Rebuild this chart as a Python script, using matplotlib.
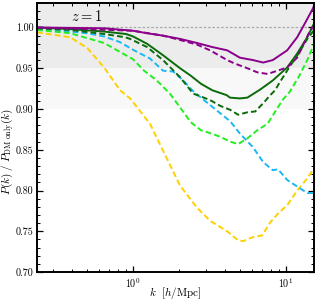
import numpy as np
import matplotlib
matplotlib.use('Agg')
import matplotlib.pyplot as plt
from matplotlib.ticker import MultipleLocator, FormatStrFormatter

plt.rcParams['font.family'] = 'serif'
plt.rcParams['font.serif'] = ['cmr10']
plt.rcParams['mathtext.fontset'] = 'cm'
plt.rcParams['axes.formatter.use_mathtext'] = True

# purple, solid and dashed
k_pur = [0.235, 0.65, 1.0, 1.23, 1.57, 2.03, 2.62, 3.3, 4.13, 5.0, 6.1, 7.1, 8.2, 10.2, 11.85, 13.4, 15.0, 15.3]
p_pur = [1.000, 0.999, 0.996, 0.993, 0.990, 0.986, 0.981, 0.976, 0.972, 0.963, 0.960, 0.957, 0.960, 0.972, 0.988, 1.006, 1.023, 1.027]
k_pur_d = [0.235, 1.0, 1.57, 2.0, 2.62, 3.19, 4.13, 4.6, 5.6, 6.5, 7.6, 8.8, 10.2, 11.85, 13.4, 14.4, 15.3]
p_pur_d = [1.000, 0.996, 0.990, 0.985, 0.979, 0.972, 0.960, 0.956, 0.950, 0.945, 0.943, 0.947, 0.951, 0.963, 0.984, 0.996, 1.002]

# dark green, solid and dashed
k_dg = [0.235, 0.387, 0.646, 0.90, 1.0, 1.235, 1.57, 2.03, 2.38, 2.78, 3.3, 4.1, 4.3, 5.0, 5.6, 6.8, 8.2, 10.2, 11.85, 13.8, 15.0, 15.3]
p_dg = [1.000, 0.998, 0.995, 0.992, 0.989, 0.980, 0.966, 0.950, 0.941, 0.931, 0.923, 0.917, 0.914, 0.913, 0.914, 0.924, 0.935, 0.951, 0.968, 0.988, 1.002, 1.005]
k_dg_d = [0.235, 0.387, 0.646, 0.89, 0.956, 1.235, 1.57, 2.03, 2.47, 3.19, 3.71, 4.32, 4.87, 5.6, 6.3, 7.1, 7.9, 8.5, 9.0, 10.5, 12.1, 13.8, 14.9, 15.3]
p_dg_d = [0.999, 0.997, 0.992, 0.988, 0.986, 0.976, 0.960, 0.939, 0.919, 0.911, 0.904, 0.899, 0.893, 0.896, 0.897, 0.907, 0.917, 0.923, 0.931, 0.951, 0.968, 0.986, 0.994, 0.997]

# lime
k_lime = [0.235, 0.387, 0.5, 0.646, 0.822, 1.0, 1.18, 1.43, 1.74, 2.03, 2.38, 2.78, 3.25, 3.71, 4.32, 4.87, 5.6, 6.5, 7.6, 8.2, 9.0, 9.7, 10.5, 12.1, 13.8, 15.0, 15.3]
p_lime = [0.997, 0.993, 0.987, 0.981, 0.970, 0.961, 0.947, 0.935, 0.919, 0.902, 0.884, 0.874, 0.870, 0.866, 0.860, 0.857, 0.864, 0.874, 0.882, 0.892, 0.904, 0.913, 0.920, 0.939, 0.960, 0.976, 0.980]

# cyan
k_cyan = [0.235, 0.387, 0.5, 0.646, 0.822, 1.015, 1.29, 1.57, 1.83, 2.13, 2.47, 2.78, 3.71, 4.32, 5.0, 6.1, 7.1, 8.2, 8.9, 10.2, 11.85, 13.8, 15.3]
p_cyan = [0.998, 0.995, 0.993, 0.989, 0.982, 0.972, 0.962, 0.947, 0.946, 0.935, 0.922, 0.914, 0.895, 0.885, 0.870, 0.853, 0.835, 0.825, 0.826, 0.813, 0.805, 0.797, 0.797]

# yellow
k_yel = [0.235, 0.387, 0.5, 0.646, 0.822, 0.956, 1.29, 1.57, 2.03, 2.62, 3.19, 4.13, 4.87, 5.25, 6.1, 7.0, 7.9, 8.9, 10.2, 11.85, 13.4, 15.3]
p_yel = [0.994, 0.988, 0.975, 0.951, 0.923, 0.913, 0.882, 0.849, 0.806, 0.779, 0.763, 0.750, 0.739, 0.738, 0.743, 0.745, 0.761, 0.772, 0.782, 0.800, 0.812, 0.827]

fig = plt.figure(figsize=(3.16, 3.03), dpi=100)
ax = fig.add_axes([0.117, 0.102, 0.877, 0.888])

ax.axhspan(0.95, 1.05, color='#ececec', lw=0, zorder=0)
ax.axhspan(0.90, 0.95, color='#f8f8f8', lw=0, zorder=0)
ax.axhline(1.0, color='#aaaaaa', lw=0.9, dashes=(2, 1.5), zorder=1)

dash = (3.0, 1.6)
lw = 1.4
ax.plot(k_yel, p_yel, color='#ffd000', lw=lw, dashes=dash)
ax.plot(k_cyan, p_cyan, color='#1ab8f2', lw=lw, dashes=dash)
ax.plot(k_lime, p_lime, color='#22ee22', lw=lw, dashes=dash)
ax.plot(k_dg_d, p_dg_d, color='#0a6b0a', lw=lw, dashes=dash)
ax.plot(k_dg, p_dg, color='#0a6b0a', lw=lw)
ax.plot(k_pur_d, p_pur_d, color='#8a008a', lw=lw, dashes=dash)
ax.plot(k_pur, p_pur, color='#8a008a', lw=lw)

ax.set_xscale('log')
ax.set_xlim(0.235, 15.3)
ax.set_ylim(0.70, 1.03)
ax.yaxis.set_major_locator(MultipleLocator(0.05))
ax.yaxis.set_minor_locator(MultipleLocator(0.01))
ax.yaxis.set_major_formatter(FormatStrFormatter('%.2f'))

ax.tick_params(which='both', direction='in', top=True, right=True, labelsize=7.2)
ax.tick_params(axis='y', pad=2.5)
ax.tick_params(which='major', length=4, width=0.9)
ax.tick_params(which='minor', length=2.2, width=0.7)
for s in ax.spines.values():
    s.set_linewidth(1.4)

ax.text(0.5, 1.014, r'$z = 1$', fontsize=10.5, ha='center', va='center')
fig.text(175 / 316, 1 - 293 / 303, r'$k\ \ [h/{\rm Mpc}]$', fontsize=8, ha='center', va='center')
fig.text(7.5 / 316, 0.5, r'$P(k)\ /\ P_{\rm DM\ only}(k)$', fontsize=8, ha='center', va='center', rotation=90)

fig.savefig('out.png', dpi=100)
